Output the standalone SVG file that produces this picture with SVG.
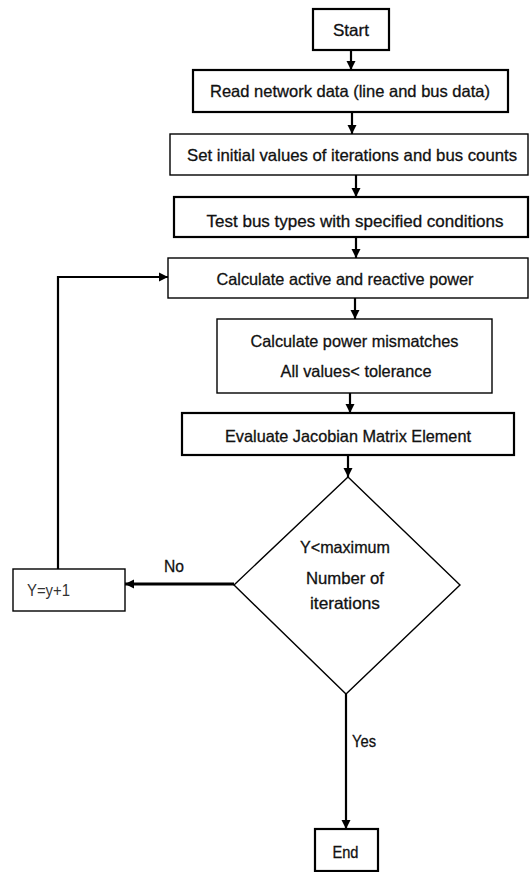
<svg xmlns="http://www.w3.org/2000/svg" width="530" height="872" viewBox="0 0 530 872">
<style>
  .bg{fill:#ffffff}
  .thick{fill:#ffffff;stroke:#000;stroke-width:2.2}
  .thin{fill:#ffffff;stroke:#000;stroke-width:1.4}
  .t{font-family:"Liberation Sans",Arial,sans-serif;font-size:16.5px;fill:#111;stroke:#111;stroke-width:0.3;text-anchor:middle}
  .ts{font-family:"Liberation Sans",Arial,sans-serif;font-size:16.5px;fill:#111;stroke:#111;stroke-width:0.3;text-anchor:start}
  .tl{font-family:"Liberation Sans",Arial,sans-serif;font-size:16px;fill:#333;text-anchor:start}
  .ln{fill:none;stroke:#000;stroke-width:2.2}
</style>
<defs>
  <marker id="ah" markerWidth="10" markerHeight="10" refX="9" refY="5" orient="auto" markerUnits="userSpaceOnUse">
    <path d="M0,0.5 L9,5 L0,9.5 z" fill="#000"/>
  </marker>
</defs>
<rect class="bg" x="0" y="0" width="530" height="872"/>

<g id="connectors">
  <line class="ln" x1="351" y1="50" x2="351" y2="70" marker-end="url(#ah)"/>
  <line class="ln" x1="352" y1="112" x2="352" y2="134" marker-end="url(#ah)"/>
  <line class="ln" x1="356" y1="175" x2="356" y2="197" marker-end="url(#ah)"/>
  <line class="ln" x1="356" y1="237" x2="356" y2="258" marker-end="url(#ah)"/>
  <line class="ln" x1="355" y1="298" x2="355" y2="319" marker-end="url(#ah)"/>
  <line class="ln" x1="350" y1="393" x2="350" y2="413" marker-end="url(#ah)"/>
  <line class="ln" x1="348" y1="455" x2="348" y2="477" marker-end="url(#ah)"/>
  <line class="ln" x1="346" y1="694" x2="346" y2="829" marker-end="url(#ah)"/>
  <line class="ln" x1="234" y1="584" x2="125" y2="584" style="stroke-width:3" marker-end="url(#ah)"/>
  <polyline class="ln" points="58,569 58,277 168,277" marker-end="url(#ah)"/>
  <text class="ts" x="164" y="572" textLength="20" lengthAdjust="spacingAndGlyphs">No</text>
  <text class="ts" x="352" y="747" textLength="24" lengthAdjust="spacingAndGlyphs">Yes</text>
</g>

<g id="start">
  <rect class="thick" x="313" y="9" width="76" height="41"/>
  <text class="t" x="351" y="36" textLength="36" lengthAdjust="spacingAndGlyphs">Start</text>
</g>
<g id="read">
  <rect class="thick" x="193" y="70" width="315" height="42"/>
  <text class="t" x="350" y="97" textLength="280" lengthAdjust="spacingAndGlyphs">Read network data (line and bus data)</text>
</g>
<g id="setinit">
  <rect class="thin" x="170" y="134" width="358" height="41"/>
  <text class="t" x="352" y="161" textLength="330" lengthAdjust="spacingAndGlyphs">Set initial values of iterations and bus counts</text>
</g>
<g id="testbus">
  <rect class="thick" x="174" y="197" width="354" height="40"/>
  <text class="t" x="355" y="227" textLength="297" lengthAdjust="spacingAndGlyphs">Test bus types with specified conditions</text>
</g>
<g id="calcpower">
  <rect class="thin" x="168" y="258" width="360" height="40"/>
  <text class="t" x="345" y="285" textLength="257" lengthAdjust="spacingAndGlyphs">Calculate active and reactive power</text>
</g>
<g id="mismatch">
  <rect class="thin" x="217" y="319" width="275" height="74"/>
  <text class="t" x="354.5" y="347" textLength="208" lengthAdjust="spacingAndGlyphs">Calculate power mismatches</text>
  <text class="t" x="356" y="377" textLength="151" lengthAdjust="spacingAndGlyphs">All values&lt; tolerance</text>
</g>
<g id="jacobian">
  <rect class="thick" x="182" y="413" width="332" height="42"/>
  <text class="t" x="348" y="442" textLength="246" lengthAdjust="spacingAndGlyphs">Evaluate Jacobian Matrix Element</text>
</g>
<g id="decision">
  <polygon class="thin" points="348,477 460,585 346,694 234,585"/>
  <text class="t" x="345" y="553" textLength="90" lengthAdjust="spacingAndGlyphs">Y&lt;maximum</text>
  <text class="t" x="345" y="584" textLength="78" lengthAdjust="spacingAndGlyphs">Number of</text>
  <text class="t" x="345" y="609" textLength="70" lengthAdjust="spacingAndGlyphs">iterations</text>
</g>
<g id="increment">
  <rect class="thin" x="13" y="569" width="112" height="42"/>
  <text class="tl" x="27" y="596" textLength="43" lengthAdjust="spacingAndGlyphs">Y=y+1</text>
</g>
<g id="end">
  <rect class="thick" x="315" y="829" width="63" height="42"/>
  <text class="t" x="345.5" y="858" textLength="26" lengthAdjust="spacingAndGlyphs">End</text>
</g>
</svg>
